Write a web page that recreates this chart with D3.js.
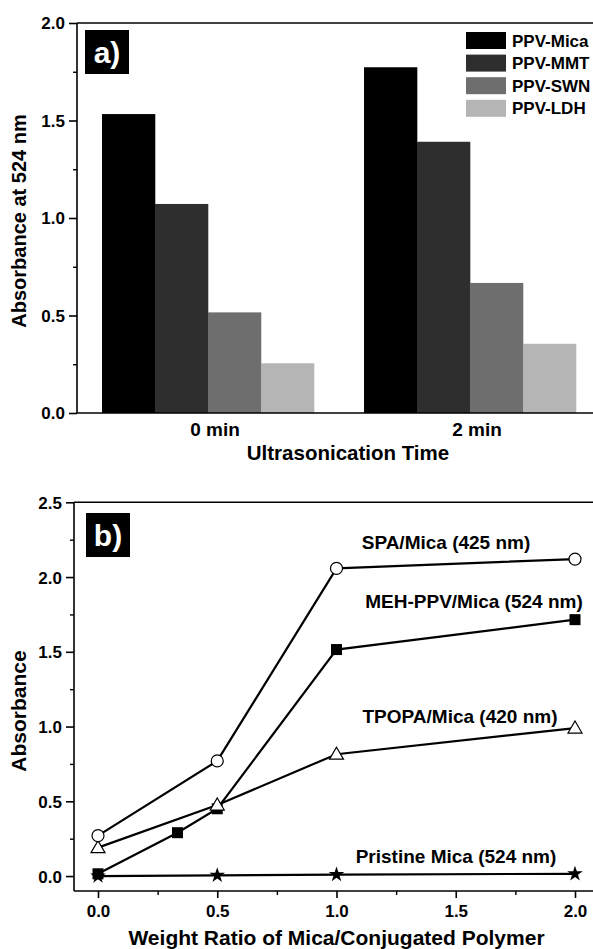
<!DOCTYPE html>
<html><head><meta charset="utf-8">
<script src="https://cdn.jsdelivr.net/npm/d3@7"></script>
<style>
html,body{margin:0;padding:0;background:#fff;}
text{font-family:"Liberation Sans",Arial,Helvetica,sans-serif;font-weight:bold;fill:#000;}
</style></head>
<body>
<svg id="c" width="593" height="949"></svg>
<script>
// ---- Panel a data ----
const barCategories = ["0 min", "2 min"];
const barSeries = ["PPV-Mica", "PPV-MMT", "PPV-SWN", "PPV-LDH"];
const barValues = {
  "PPV-Mica": [1.533, 1.773],
  "PPV-MMT":  [1.072, 1.391],
  "PPV-SWN":  [0.516, 0.667],
  "PPV-LDH":  [0.255, 0.355]
};
const barColors = ["#000000", "#2e2e2e", "#6e6e6e", "#b5b5b5"];
const barYTicks = [0.0, 0.5, 1.0, 1.5, 2.0];

// ---- Panel b data ----
const lineSeriesNames = ["Pristine Mica (524 nm)", "MEH-PPV/Mica (524 nm)", "TPOPA/Mica (420 nm)", "SPA/Mica (425 nm)"];
const pristineX = [0, 0.5, 1.0, 2.0];
const pristineY = [0.0, 0.005, 0.01, 0.015];
const mehX = [0, 1/3, 0.5, 1.0, 2.0];
const mehY = [0.015, 0.29, 0.45, 1.515, 1.715];
const tpopaX = [0, 0.5, 1.0, 2.0];
const tpopaY = [0.19, 0.475, 0.815, 0.99];
const spaX = [0, 0.5, 1.0, 2.0];
const spaY = [0.27, 0.77, 2.058, 2.12];
const lineXTicks = [0.0, 0.5, 1.0, 1.5, 2.0];
const lineYTicks = [0.0, 0.5, 1.0, 1.5, 2.0, 2.5];

const svg = d3.select("#c");
const fmt = d3.format(".1f");

// ================= Panel a =================
const aL = 77, aT = 23, aB = 413, aR = 593;
const ya = d3.scaleLinear().domain([0, 2]).range([aB, aT]);
const xa = d3.scaleBand().domain(barCategories).range([102, 576]).paddingInner(0.191).paddingOuter(0);
const xs = d3.scaleBand().domain(barSeries).range([0, xa.bandwidth()]);

const ga = svg.append("g");
barSeries.forEach((s, i) => {
  ga.selectAll(null).data(barCategories).enter().append("rect")
    .attr("x", c => xa(c) + xs(s))
    .attr("width", xs.bandwidth() + 0.3)
    .attr("y", (c, j) => ya(barValues[s][j]))
    .attr("height", (c, j) => ya(0) - ya(barValues[s][j]))
    .attr("fill", barColors[i]);
});

// frame a
ga.append("line").attr("x1", aL).attr("x2", aR).attr("y1", aT).attr("y2", aT).attr("stroke", "#000").attr("stroke-width", 1.6);
ga.append("line").attr("x1", aL).attr("x2", aL).attr("y1", aT).attr("y2", aB).attr("stroke", "#000").attr("stroke-width", 1.6);
ga.append("line").attr("x1", aL).attr("x2", aR).attr("y1", aB).attr("y2", aB).attr("stroke", "#000").attr("stroke-width", 1.6);

// y axis a
const yaAxis = d3.axisLeft(ya).tickValues(barYTicks).tickSize(8).tickSizeOuter(0).tickFormat(fmt);
const yaG = ga.append("g").attr("transform", `translate(${aL},0)`).call(yaAxis);
yaG.select(".domain").remove();
yaG.selectAll(".tick line").attr("stroke-width", 1.6);
yaG.selectAll(".tick text").attr("x", -12).attr("dy", "0.35em").style("font-size", "17px").style("font-family", null);
const yaMinor = d3.axisLeft(ya).tickValues([0.25, 0.75, 1.25, 1.75]).tickSize(4).tickFormat("");
const yaMG = ga.append("g").attr("transform", `translate(${aL},0)`).call(yaMinor);
yaMG.select(".domain").remove();
yaMG.selectAll(".tick line").attr("stroke-width", 1.4);

// x labels a
ga.selectAll(null).data(barCategories).enter().append("text")
  .attr("x", c => xa(c) + xa.bandwidth() / 2 + 7)
  .attr("y", 436).attr("text-anchor", "middle").style("font-size", "19px")
  .text(c => c);
ga.append("text").attr("x", 348).attr("y", 460).attr("text-anchor", "middle").style("font-size", "20.5px").text("Ultrasonication Time");
ga.append("text").attr("transform", "translate(26,221) rotate(-90)").attr("text-anchor", "middle").style("font-size", "20px").text("Absorbance at 524 nm");

// legend a
const leg = ga.append("g");
barSeries.forEach((s, i) => {
  const y0 = 32 + i * 22.6;
  leg.append("rect").attr("x", 466).attr("y", y0).attr("width", 40).attr("height", 17).attr("fill", barColors[i]);
  leg.append("text").attr("x", 512).attr("y", y0 + 14.5).style("font-size", "17px").text(s);
});

// panel label a
ga.append("rect").attr("x", 85).attr("y", 30).attr("width", 44).attr("height", 44).attr("fill", "#000");
ga.append("text").attr("x", 107).attr("y", 63).attr("text-anchor", "middle").style("font-size", "30px").style("fill", "#fff").text("a)");

// ================= Panel b =================
const bL = 74, bT = 502.3, bB = 891, bR = 593;
const yb = d3.scaleLinear().domain([-0.1, 2.5]).range([bB, bT]);
const xb = d3.scaleLinear().domain([-0.1, 2.1]).range([74.15, 598.85]);
const gb = svg.append("g");

gb.append("line").attr("x1", bL).attr("x2", bR).attr("y1", bT).attr("y2", bT).attr("stroke", "#000").attr("stroke-width", 1.6);
gb.append("line").attr("x1", bL).attr("x2", bL).attr("y1", bT).attr("y2", bB).attr("stroke", "#000").attr("stroke-width", 1.6);
gb.append("line").attr("x1", bL).attr("x2", bR).attr("y1", bB).attr("y2", bB).attr("stroke", "#000").attr("stroke-width", 1.6);

const ybAxis = d3.axisLeft(yb).tickValues(lineYTicks).tickSize(8).tickFormat(fmt);
const ybG = gb.append("g").attr("transform", `translate(${bL},0)`).call(ybAxis);
ybG.select(".domain").remove();
ybG.selectAll(".tick line").attr("stroke-width", 1.6);
ybG.selectAll(".tick text").attr("x", -12).attr("dy", "0.35em").style("font-size", "17px").style("font-family", null);
const ybMinor = d3.axisLeft(yb).tickValues([0.25, 0.75, 1.25, 1.75, 2.25]).tickSize(4).tickFormat("");
const ybMG = gb.append("g").attr("transform", `translate(${bL},0)`).call(ybMinor);
ybMG.select(".domain").remove();
ybMG.selectAll(".tick line").attr("stroke-width", 1.4);

const xbAxis = d3.axisBottom(xb).tickValues(lineXTicks).tickSize(7).tickFormat(fmt);
const xbG = gb.append("g").attr("transform", `translate(0,${bB})`).call(xbAxis);
xbG.select(".domain").remove();
xbG.selectAll(".tick line").attr("stroke-width", 1.6);
xbG.selectAll(".tick text").attr("y", 14).attr("dy", "0.71em").style("font-size", "17px").style("font-family", null);
const xbMinor = d3.axisBottom(xb).tickValues([0.25, 0.75, 1.25, 1.75]).tickSize(4).tickFormat("");
const xbMG = gb.append("g").attr("transform", `translate(0,${bB})`).call(xbMinor);
xbMG.select(".domain").remove();
xbMG.selectAll(".tick line").attr("stroke-width", 1.4);

gb.append("text").attr("x", 336.5).attr("y", 945).attr("text-anchor", "middle").style("font-size", "21px").text("Weight Ratio of Mica/Conjugated Polymer");
gb.append("text").attr("transform", "translate(26,711) rotate(-90)").attr("text-anchor", "middle").style("font-size", "21px").text("Absorbance");

// series
const series = [
  {name: lineSeriesNames[0], xs: pristineX, ys: pristineY, marker: "star"},
  {name: lineSeriesNames[1], xs: mehX, ys: mehY, marker: "square"},
  {name: lineSeriesNames[2], xs: tpopaX, ys: tpopaY, marker: "triangle"},
  {name: lineSeriesNames[3], xs: spaX, ys: spaY, marker: "circle"}
];
const line = d3.line().x(d => xb(d[0])).y(d => yb(d[1]));
series.forEach(s => {
  const pts = s.xs.map((x, i) => [x, s.ys[i]]);
  gb.append("path").attr("d", line(pts)).attr("fill", "none").attr("stroke", "#000").attr("stroke-width", 2.2);
});
series.forEach(s => {
  const pts = s.xs.map((x, i) => [x, s.ys[i]]);
  const sel = gb.selectAll(null).data(pts).enter();
  if (s.marker === "circle") {
    sel.append("circle").attr("cx", d => xb(d[0])).attr("cy", d => yb(d[1])).attr("r", 6)
      .attr("fill", "#fff").attr("stroke", "#000").attr("stroke-width", 1.2);
  } else if (s.marker === "square") {
    sel.append("rect").attr("x", d => xb(d[0]) - 5.5).attr("y", d => yb(d[1]) - 5.5).attr("width", 11).attr("height", 11).attr("fill", "#000");
  } else if (s.marker === "triangle") {
    sel.append("path").attr("transform", d => `translate(${xb(d[0])},${yb(d[1])})`)
      .attr("d", "M0,-7L7,5L-7,5Z").attr("fill", "#fff").attr("stroke", "#000").attr("stroke-width", 1.2);
  } else {
    sel.append("path").attr("transform", d => `translate(${xb(d[0])},${yb(d[1])})`)
      .attr("d", d3.symbol(d3.symbolStar, 75)()).attr("fill", "#000");
  }
});

// annotations
const annX = [456, 474, 460, 446];
const annY = [863.3, 607.7, 723.3, 549];
series.forEach((s, i) => {
  gb.append("text").attr("x", annX[i]).attr("y", annY[i]).attr("text-anchor", "middle").style("font-size", "19px").text(s.name);
});

// panel label b
gb.append("rect").attr("x", 86).attr("y", 513).attr("width", 44).attr("height", 44).attr("fill", "#000");
gb.append("text").attr("x", 108).attr("y", 546).attr("text-anchor", "middle").style("font-size", "30px").style("fill", "#fff").text("b)");
</script>
</body></html>
